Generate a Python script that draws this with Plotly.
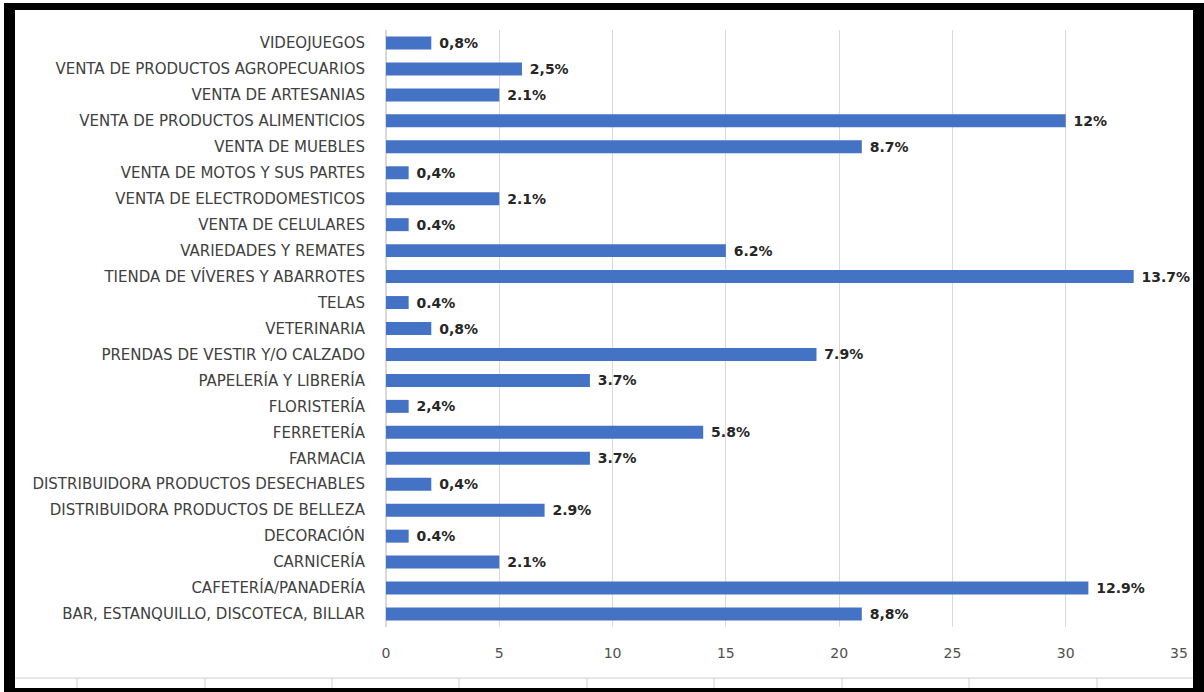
import plotly.graph_objects as go

categories = [
    "VIDEOJUEGOS",
    "VENTA DE PRODUCTOS AGROPECUARIOS",
    "VENTA DE ARTESANIAS",
    "VENTA DE PRODUCTOS ALIMENTICIOS",
    "VENTA DE MUEBLES",
    "VENTA DE MOTOS Y SUS PARTES",
    "VENTA DE ELECTRODOMESTICOS",
    "VENTA DE CELULARES",
    "VARIEDADES Y REMATES",
    "TIENDA DE VÍVERES Y ABARROTES",
    "TELAS",
    "VETERINARIA",
    "PRENDAS DE VESTIR Y/O CALZADO",
    "PAPELERÍA Y LIBRERÍA",
    "FLORISTERÍA",
    "FERRETERÍA",
    "FARMACIA",
    "DISTRIBUIDORA PRODUCTOS DESECHABLES",
    "DISTRIBUIDORA PRODUCTOS DE BELLEZA",
    "DECORACIÓN",
    "CARNICERÍA",
    "CAFETERÍA/PANADERÍA",
    "BAR, ESTANQUILLO, DISCOTECA, BILLAR",
]
values = [2, 6, 5, 30, 21, 1, 5, 1, 15, 33, 1, 2, 19, 9, 1, 14, 9, 2, 7, 1, 5, 31, 21]
labels = ["0,8%", "2,5%", "2.1%", "12%", "8.7%", "0,4%", "2.1%", "0.4%", "6.2%", "13.7%",
          "0.4%", "0,8%", "7.9%", "3.7%", "2,4%", "5.8%", "3.7%", "0,4%", "2.9%", "0.4%",
          "2.1%", "12.9%", "8,8%"]
x_ticks = [0, 5, 10, 15, 20, 25, 30, 35]

fig = go.Figure()
fig.add_trace(go.Bar(
    y=categories, x=values, orientation="h",
    marker=dict(color="#4472C4", line=dict(width=0)),
    text=labels, texttemplate=" %{text}", textposition="outside",
    constraintext="none",
    textfont=dict(family="DejaVu Sans", size=14, color="#262626", weight="bold"),
    cliponaxis=False, width=0.5,
))

# plot area in pixels
L, R, T, B = 386, 1179, 30, 627
W, H = R - L, B - T
def px(x):
    return (x - L) / W
def py(y):
    return (B - y) / H

shapes = []
# spreadsheet strip at bottom
shapes.append(dict(type="line", xref="paper", yref="paper", x0=px(15), x1=px(1193), y0=py(678), y1=py(678),
                   line=dict(color="#d0d0d0", width=1)))
for xd in [77, 205, 332, 459, 587, 714, 842, 969, 1097]:
    shapes.append(dict(type="line", xref="paper", yref="paper", x0=px(xd), x1=px(xd), y0=py(678), y1=py(688),
                       line=dict(color="#d0d0d0", width=1)))
# black frame
for (x0, y0, x1, y1) in [(4, 3, 15, 692), (4, 3, 1204, 10), (1193, 3, 1204, 692), (4, 688, 1204, 692)]:
    shapes.append(dict(type="rect", xref="paper", yref="paper", x0=px(x0), x1=px(x1), y0=py(y1), y1=py(y0),
                       fillcolor="black", line=dict(width=0), layer="above"))

fig.update_layout(
    width=1204, height=692,
    margin=dict(l=L, r=1204 - R, t=T, b=692 - B),
    paper_bgcolor="white", plot_bgcolor="white",
    showlegend=False,
    bargap=0.5,
    shapes=shapes,
    font=dict(family="DejaVu Sans", color="#404040"),
)
fig.update_xaxes(
    range=[0, 35], tickvals=x_ticks, showgrid=True, gridcolor="#d9d9d9", gridwidth=1,
    zeroline=True, zerolinecolor="#d9d9d9", showline=False,
    tickfont=dict(family="DejaVu Sans", size=14, color="#505050"), ticklabelstandoff=16,
)
fig.update_yaxes(
    autorange="reversed", showgrid=False, showline=False, ticks="",
    tickfont=dict(family="DejaVu Sans", size=15, color="#404040"), ticklabelstandoff=20,
)

fig.write_html(
    "out.html",
    config={"displayModeBar": False},
    post_script="document.body.style.margin='0';document.body.style.overflow='hidden';",
)
